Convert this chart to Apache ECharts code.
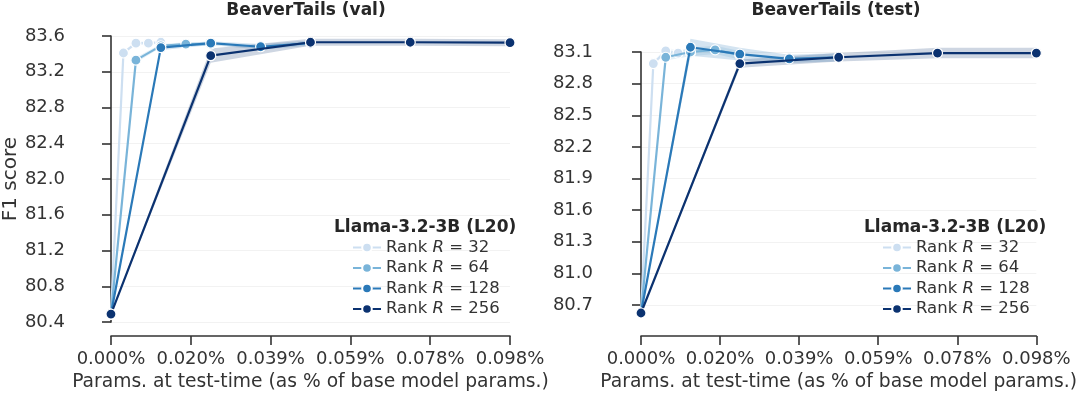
<!DOCTYPE html>
<html>
<head>
<meta charset="utf-8">
<script src="https://cdn.jsdelivr.net/npm/echarts@6/dist/echarts.min.js"></script>
<style>
  html, body { margin: 0; padding: 0; background: #fff; }
  #chart { width: 1080px; height: 397px; }
</style>
</head>
<body>
<div id="chart"></div>
<script>
// ranks and params at test-time (as % of base model params)
const ranks = [32, 64, 128, 256]
const xR32 = [0, 0.00306, 0.00613, 0.00919, 0.01225]
const xR64 = [0, 0.00613, 0.01225, 0.01838, 0.0245]
const xR128 = [0, 0.01225, 0.0245, 0.03675, 0.049]
const xR256 = [0, 0.0245, 0.049, 0.0735, 0.098]

// BeaverTails (val) F1
const valR32 = [80.49, 83.41, 83.52, 83.52, 83.53]
const valR64 = [80.49, 83.33, 83.49, 83.51, 83.51]
const valR128 = [80.49, 83.47, 83.52, 83.48, 83.52]
const valR256 = [80.49, 83.38, 83.53, 83.53, 83.525]
// half width of the shaded band
const valCiR32 = [0.01, 0.02, 0.02, 0.02, 0.02]
const valCiR64 = [0.01, 0.03, 0.02, 0.02, 0.02]
const valCiR128 = [0.01, 0.03, 0.02, 0.03, 0.03]
const valCiR256 = [0.01, 0.08, 0.04, 0.04, 0.04]

// BeaverTails (test) F1
const testR32 = [80.625, 82.99, 83.11, 83.09, 83.09]
const testR64 = [80.625, 83.05, 83.10, 83.12, 83.07]
const testR128 = [80.625, 83.145, 83.08, 83.035, 83.05]
const testR256 = [80.625, 82.99, 83.05, 83.09, 83.09]
const testCiR32 = [0.01, 0.02, 0.03, 0.03, 0.03]
const testCiR64 = [0.01, 0.03, 0.04, 0.04, 0.04]
const testCiR128 = [0.01, 0.08, 0.06, 0.04, 0.04]
const testCiR256 = [0.01, 0.04, 0.04, 0.05, 0.05]

// tick labels
const xTicks = [0, 0.0196, 0.0392, 0.0588, 0.0784, 0.098]
const valYTicks = [80.4, 80.8, 81.2, 81.6, 82.0, 82.4, 82.8, 83.2, 83.6]
const testYTicks = [80.7, 81.0, 81.3, 81.6, 81.9, 82.2, 82.5, 82.8, 83.1]

const titles = ['BeaverTails (val)', 'BeaverTails (test)']
const legendTitle = 'Llama-3.2-3B (L20)'
const xName = 'Params. at test-time (as % of base model params.)'
const yName = 'F1 score'

const rankColors = ['#cddff1', '#79b4d9', '#2a79b8', '#0b3270']
const FONT = 'DejaVu Sans'
const TXT = '#333333'
const FS = 18
const LEG_FS = 16.5

const rankX = [xR32, xR64, xR128, xR256]
const valY = [valR32, valR64, valR128, valR256]
const valCi = [valCiR32, valCiR64, valCiR128, valCiR256]
const testY = [testR32, testR64, testR128, testR256]
const testCi = [testCiR32, testCiR64, testCiR128, testCiR256]
const seriesNames = ranks.map(r => 'Rank R = ' + r)

function bandSeries (gi, xs, ys, ci, color) {
    return {
        type: 'custom',
        xAxisIndex: gi,
        yAxisIndex: gi,
        silent: true,
        z: 1,
        data: [[xs[0], ys[0]]],
        renderItem: function (params, api) {
            const upper = xs.map((x, i) => api.coord([x, ys[i] + ci[i]]))
            const lower = xs.map((x, i) => api.coord([x, ys[i] - ci[i]])).reverse()
            return {
                type: 'polygon',
                shape: { points: upper.concat(lower) },
                style: { fill: color, opacity: 0.2 }
            }
        }
    }
}

function lineSeries (gi, k, xs, ys) {
    return {
        type: 'line',
        name: seriesNames[k],
        xAxisIndex: gi,
        yAxisIndex: gi,
        data: xs.map((x, i) => [x, ys[i]]),
        symbol: 'circle',
        symbolSize: 10,
        showSymbol: true,
        clip: false,
        z: 3 + k,
        lineStyle: { color: rankColors[k], width: 2.2 },
        itemStyle: { color: rankColors[k], borderColor: '#ffffff', borderWidth: 1.2 },
        emphasis: { disabled: true }
    }
}

function xAxisOf (gi, offset) {
    return {
        type: 'value',
        gridIndex: gi,
        min: xTicks[0],
        max: xTicks[xTicks.length - 1],
        interval: xTicks[1] - xTicks[0],
        offset: offset,
        name: xName,
        nameLocation: 'middle',
        nameGap: 36,
        nameTextStyle: { fontSize: 18.7, color: TXT, fontFamily: FONT },
        axisLine: { show: true, lineStyle: { color: TXT, width: 1.6 } },
        axisTick: { show: true, length: 9, lineStyle: { color: TXT, width: 1.6 } },
        axisLabel: {
            margin: 14,
            fontSize: FS,
            color: TXT,
            fontFamily: FONT,
            formatter: v => v.toFixed(3) + '%'
        },
        splitLine: { show: false }
    }
}

function yAxisOf (gi, ticks, offset, withName) {
    return {
        type: 'value',
        gridIndex: gi,
        min: ticks[0],
        max: ticks[ticks.length - 1],
        interval: Math.round((ticks[1] - ticks[0]) * 10) / 10,
        offset: offset,
        name: withName ? yName : '',
        nameLocation: 'middle',
        nameGap: 57,
        nameTextStyle: { fontSize: 20, color: TXT, fontFamily: FONT },
        axisLine: { show: true, lineStyle: { color: TXT, width: 1.6 } },
        axisTick: { show: true, length: 9, lineStyle: { color: TXT, width: 1.6 } },
        axisLabel: {
            margin: 18,
            fontSize: FS,
            color: TXT,
            fontFamily: FONT,
            formatter: v => v.toFixed(1)
        },
        splitLine: { show: true, lineStyle: { color: '#f2f2f2', width: 1 } }
    }
}

function legendOf (left) {
    return {
        orient: 'vertical',
        left: left,
        top: 239,
        padding: 0,
        itemWidth: 28,
        itemHeight: 12,
        itemGap: 3.5,
        data: seriesNames,
        selectedMode: false,
        formatter: n => n.replace(' R ', ' {i|R} '),
        textStyle: {
            fontSize: LEG_FS,
            color: TXT,
            fontFamily: FONT,
            rich: { i: { fontStyle: 'italic', fontSize: LEG_FS, color: TXT, fontFamily: FONT } }
        }
    }
}

const series = []
ranks.forEach((r, k) => {
    series.push(bandSeries(0, rankX[k], valY[k], valCi[k], rankColors[k]))
    series.push(bandSeries(1, rankX[k], testY[k], testCi[k], rankColors[k]))
})
ranks.forEach((r, k) => {
    series.push(lineSeries(0, k, rankX[k], valY[k]))
    series.push(lineSeries(1, k, rankX[k], testY[k]))
})

const titleStyle = { fontSize: 17, fontWeight: 'bold', color: '#262626', fontFamily: FONT }

const option = {
    animation: false,
    backgroundColor: '#ffffff',
    textStyle: { fontFamily: FONT },
    title: [
        { text: titles[0], left: 306, top: 2, padding: 0, textAlign: 'center', textStyle: titleStyle },
        { text: titles[1], left: 836, top: 2, padding: 0, textAlign: 'center', textStyle: titleStyle },
        { text: legendTitle, left: 334, top: 219, padding: 0, textStyle: titleStyle },
        { text: legendTitle, left: 864, top: 219, padding: 0, textStyle: titleStyle }
    ],
    legend: [legendOf(352), legendOf(882)],
    grid: [
        { left: 110, top: 36, width: 400, height: 288 },
        { left: 641, top: 52, width: 399, height: 255 }
    ],
    xAxis: [xAxisOf(0, 14), xAxisOf(1, 31)],
    yAxis: [yAxisOf(0, valYTicks, 28, true), yAxisOf(1, testYTicks, 30, false)],
    series: series
}

const chart = echarts.init(document.getElementById('chart'))
chart.setOption(option)
</script>
</body>
</html>
